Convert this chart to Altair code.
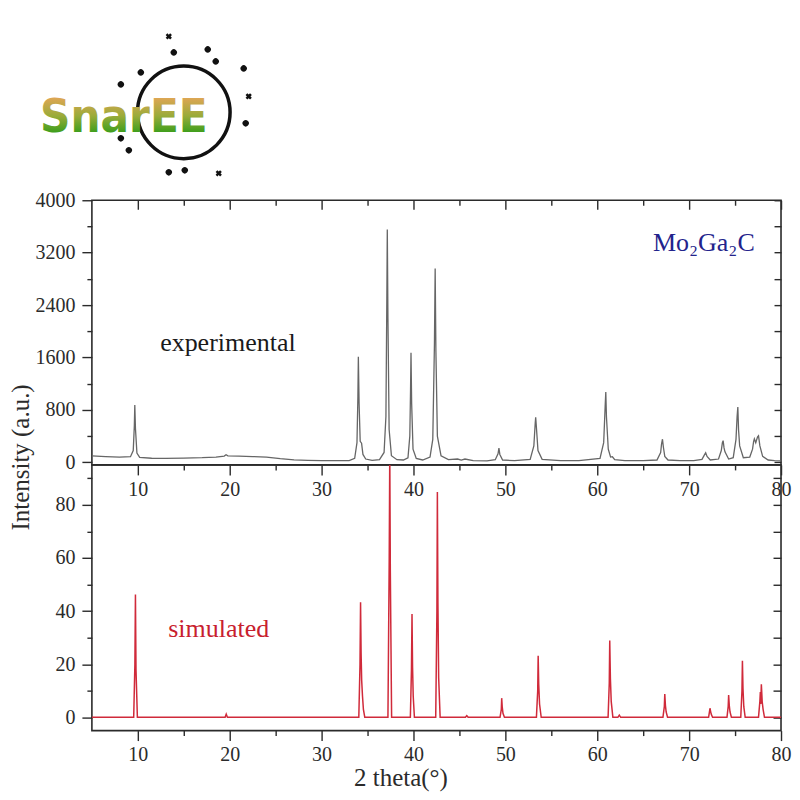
import altair as alt
import pandas as pd

# ---------------- data ----------------
exp_two_theta = [
    5.0, 6.5, 8.0, 9.2, 9.5, 9.62, 9.67, 9.74, 9.9, 10.2,
    11.5, 13.0, 15.0, 17.0, 18.5, 19.4, 19.6, 19.8, 21.0, 22.5,
    24.0, 25.5, 27.0, 28.5, 30.0, 31.5, 33.0, 33.6, 33.85, 33.95,
    34.0, 34.08, 34.2, 34.35, 34.5, 34.8, 35.5, 36.3, 36.8, 37.0,
    37.1, 37.15, 37.22, 37.35, 37.6, 38.2, 38.9, 39.4, 39.6, 39.68,
    39.73, 39.8, 39.95, 40.3, 41.0, 41.8, 42.1, 42.28, 42.36, 42.44,
    42.6, 43.0, 43.8, 44.8, 45.2, 45.6, 46.5, 48.0, 48.9, 49.2,
    49.3, 49.4, 49.7, 51.0, 52.7, 53.1, 53.25, 53.3, 53.37, 53.55,
    54.0, 56.0, 58.0, 60.3, 60.7, 60.86, 60.93, 61.0, 61.2, 61.45,
    61.65, 61.9, 63.0, 65.0, 66.5, 66.9, 67.0, 67.1, 67.2, 67.35,
    67.7, 69.0, 70.5, 71.4, 71.65, 71.8, 71.95, 72.3, 73.2, 73.5,
    73.62, 73.7, 73.8, 73.9, 74.3, 74.8, 75.1, 75.22, 75.3, 75.38,
    75.5, 75.9, 76.6, 76.9, 77.02, 77.1, 77.25, 77.45, 77.55, 77.7,
    78.0, 78.6, 79.3, 80.0]
exp_intensity = [
    98, 88, 78, 85, 180, 560, 875, 520, 140, 75,
    62, 60, 64, 70, 80, 95, 115, 98, 94, 88,
    80, 55, 38, 30, 26, 24, 26, 60, 300, 1000,
    1612, 900, 320, 291, 120, 50, 30, 40, 150, 700,
    2500, 3555, 2200, 500, 100, 40, 35, 70, 400, 1100,
    1673, 900, 200, 60, 35, 80, 350, 1800, 2960, 1700,
    400, 100, 40, 50, 35, 50, 25, 22, 40, 130,
    215, 120, 35, 25, 45, 250, 600, 688, 550, 180,
    45, 25, 25, 60, 300, 850, 1074, 700, 200, 80,
    85, 40, 25, 25, 35, 150, 280, 352, 230, 90,
    35, 25, 25, 45, 110, 145, 90, 35, 50, 180,
    300, 331, 220, 160, 50, 70, 350, 700, 845, 494,
    250, 70, 80, 200, 320, 357, 300, 390, 405, 250,
    90, 35, 25, 22]

sim_two_theta = [
    5.0,
    9.55, 9.68, 9.74, 9.8, 9.95,
    19.5, 19.62, 19.75,
    34.05, 34.18, 34.24, 34.3, 34.36, 34.45, 34.55, 34.7,
    37.22, 37.36, 37.42, 37.48, 37.62,
    39.66, 39.78, 39.84, 39.9, 39.97, 40.1,
    42.42, 42.55, 42.6, 42.66, 42.74, 42.9,
    45.65, 45.8, 45.95,
    49.42, 49.56, 49.6, 49.66, 49.74, 49.9,
    53.38, 53.52, 53.57, 53.63, 53.72, 53.9,
    61.18, 61.31, 61.36, 61.43, 61.52, 61.7,
    62.25, 62.4, 62.55,
    67.15, 67.3, 67.35, 67.42, 67.5, 67.65,
    72.12, 72.27, 72.32, 72.4, 72.55,
    74.12, 74.25, 74.3, 74.37, 74.45, 74.6,
    75.62, 75.75, 75.8, 75.86, 75.95, 76.1,
    77.55, 77.7, 77.75, 77.8, 77.86, 77.95, 78.05, 78.2,
    80.0]
sim_intensity = [
    0,
    0, 20, 46.2, 18, 0,
    0, 1.2, 0,
    0, 20, 43.3, 24, 14, 8, 3, 0,
    0, 60, 100, 55, 0,
    0, 18, 38.9, 18.8, 8, 0,
    0, 40, 84.8, 43, 15, 0,
    0, 0.6, 0,
    0, 3, 7.2, 3.8, 1.5, 0,
    0, 10, 23.2, 12.5, 5, 0,
    0, 13, 28.9, 14.7, 6, 0,
    0, 0.8, 0,
    0, 4, 8.8, 4.4, 2, 0,
    0, 3.4, 2.5, 1.2, 0,
    0, 4, 8.4, 4.4, 2, 0,
    0, 10, 21.3, 10.9, 4, 0,
    0, 6, 9.5, 5, 12.4, 5.9, 3, 0,
    0]

x_major = [10, 20, 30, 40, 50, 60, 70, 80]
x_minor = [15, 25, 35, 45, 55, 65, 75]
exp_major = [0, 800, 1600, 2400, 3200, 4000]
exp_minor = [400, 1200, 2000, 2800, 3600]
sim_major = [0, 20, 40, 60, 80]
sim_minor = [10, 30, 50, 70, 90]

exp_notes = ["experimental", "Mo\u2082Ga\u2082C"]
exp_note_x = [19.8, 71.6]
exp_note_y = [1820, 3346]
exp_note_color = ["#1a1a1a", "#23238c"]
sim_notes = ["simulated"]
sim_note_x = [18.8]
sim_note_y = [33.3]
sim_note_color = ["#c8202e"]

logo_word = ["SnarEE"]
logo_dot_x = [77, 82, 116, 124, 152, 29, 49, 157, 154, 29, 37, 77, 93, 127]
logo_dot_y = [-164, -148, -151, -139, -132, -116, -128, -104, -77, -62, -50, -28, -30, -27]
logo_dot_shape = ["cross", "circle", "circle", "circle", "circle", "circle", "circle",
                  "cross", "circle", "circle", "circle", "circle", "circle", "cross"]

# ---------------- layout / style ----------------
W, H1, H2 = 690, 265, 266
FONT = "Liberation Serif"
INK = "#2b2b2b"

X_SCALE = alt.Scale(domain=[5, 80], nice=False, zero=False)
Y1_SCALE = alt.Scale(domain=[-40, 4000], nice=False, zero=False)
Y2_SCALE = alt.Scale(domain=[-5, 95], nice=False, zero=False)


def ax(orient, values, size, labels=False, offset=0, pad=6, **extra):
    props = dict(orient=orient, values=values, tickSize=size, tickWidth=1.4,
                 tickColor=INK, domain=False, grid=False, labels=labels,
                 offset=offset, labelFont=FONT, labelFontSize=20, labelColor=INK,
                 labelPadding=pad, labelOverlap=False, labelFlush=False,
                 format="d", ticks=True, title=None)
    props.update(extra)
    return alt.Axis(**props)


def X(axis):
    return alt.X("two_theta:Q", scale=X_SCALE, axis=axis)


def Y1(axis):
    return alt.Y("intensity:Q", scale=Y1_SCALE, axis=axis)


def Y2(axis):
    return alt.Y("intensity:Q", scale=Y2_SCALE, axis=axis)


exp_df = pd.DataFrame({"two_theta": exp_two_theta, "intensity": exp_intensity})
sim_df = pd.DataFrame({"two_theta": sim_two_theta, "intensity": sim_intensity})
exp_note_df = pd.DataFrame({"two_theta": exp_note_x, "intensity": exp_note_y,
                            "label": exp_notes, "color": exp_note_color})
sim_note_df = pd.DataFrame({"two_theta": sim_note_x, "intensity": sim_note_y,
                            "label": sim_notes, "color": sim_note_color})
logo_df = pd.DataFrame({"lx": logo_dot_x, "ly": logo_dot_y, "shape": logo_dot_shape})

# ---------------- top panel ----------------
base1 = alt.Chart(exp_df)
top_line = base1.mark_line(color="#666666", strokeWidth=1.3).encode(
    x=X(ax("bottom", x_major, 10, labels=True, pad=5)),
    y=Y1(ax("left", exp_major, 10, labels=True, pad=7,
            title="Intensity (a.u.)", titleFont=FONT, titleFontSize=25,
            titleFontWeight="normal", titleColor=INK, titleX=-71, titleY=257,
            titleAngle=270, titleAlign="center", titleBaseline="middle")),
)
top_minor = base1.mark_line(opacity=0).encode(
    x=X(ax("bottom", x_minor, 5)), y=Y1(ax("left", exp_minor, 5)))
top_in_major = base1.mark_line(opacity=0).encode(
    x=X(ax("bottom", x_major, 9, offset=-H1)),
    y=Y1(ax("left", exp_major + exp_minor, 7, offset=-W)))
top_in_minor = base1.mark_line(opacity=0).encode(
    x=X(ax("bottom", x_minor, 5, offset=-H1)), y=Y1(None))
top_notes = alt.Chart(exp_note_df).mark_text(font=FONT, fontSize=26).encode(
    x=X(None), y=Y1(None), text="label:N", color=alt.Color("color:N", scale=None))

gradient = alt.LinearGradient(
    gradient="linear", x1=0, y1=0, x2=0, y2=1,
    stops=[alt.GradientStop(color="#eda55a", offset=0.1),
           alt.GradientStop(color="#9aab3a", offset=0.5),
           alt.GradientStop(color="#1f9a12", offset=0.9)])
logo_text = alt.Chart(pd.DataFrame({"word": logo_word})).mark_text(
    font="DejaVu Sans Condensed, DejaVu Sans, sans-serif",
    fontSize=47, fontWeight="bold", align="center", baseline="alphabetic",
    color=gradient).encode(x=alt.value(32), y=alt.value(-68), text="word:N")
globe = alt.Chart(pd.DataFrame({"k": [0]})).mark_point(
    shape="circle", size=8600, filled=False, color="#111", strokeWidth=3.5,
    opacity=1).encode(x=alt.value(92), y=alt.value(-88))
stars = alt.Chart(logo_df).mark_point(filled=True, color="#111", opacity=1,
                                      size=40, angle=45).encode(
    x=alt.X("lx:Q", scale=None, axis=None),
    y=alt.Y("ly:Q", scale=None, axis=None),
    shape=alt.Shape("shape:N", scale=None))

top = alt.layer(top_line, top_minor, top_in_major, top_in_minor, top_notes,
                globe, logo_text, stars).resolve_axis(
    x="independent", y="independent").properties(width=W, height=H1)

# ---------------- bottom panel ----------------
base2 = alt.Chart(sim_df)
bot_line = base2.mark_line(color="#d02a3a", strokeWidth=1.5, clip=True).encode(
    x=X(ax("bottom", x_major, 10, labels=True, pad=4,
           title="2 theta(\u00b0)", titleFont=FONT, titleFontSize=25,
           titleFontWeight="normal", titleColor=INK, titleX=309, titleY=47,
           titleAlign="center", titleBaseline="middle")),
    y=Y2(ax("left", sim_major, 10, labels=True, pad=7)),
)
bot_minor = base2.mark_line(opacity=0).encode(
    x=X(ax("bottom", x_minor, 5)), y=Y2(ax("left", sim_minor, 5)))
bot_in = base2.mark_line(opacity=0).encode(
    x=X(None), y=Y2(ax("left", sim_major + sim_minor, 8, offset=-W)))
bot_notes = alt.Chart(sim_note_df).mark_text(font=FONT, fontSize=26).encode(
    x=X(None), y=Y2(None), text="label:N", color=alt.Color("color:N", scale=None))

bottom = alt.layer(bot_line, bot_minor, bot_in, bot_notes).resolve_axis(
    x="independent", y="independent").properties(width=W, height=H2)

chart = alt.vconcat(top, bottom, spacing=0, bounds="flush").properties(
    padding={"left": 0, "top": 24, "right": 0, "bottom": 0},
    background="white",
).configure_view(stroke=INK, strokeWidth=1.6)

chart.save("out.html", embed_options={"renderer": "svg", "actions": False})
